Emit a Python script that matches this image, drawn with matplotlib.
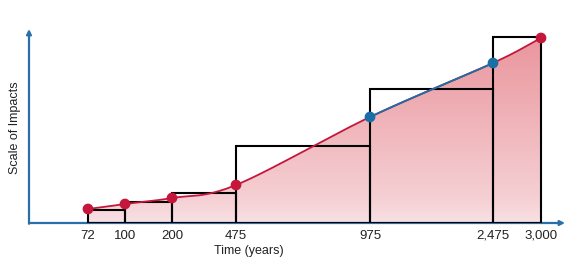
import numpy as np
import matplotlib.pyplot as plt
from matplotlib.colors import LinearSegmentedColormap

plt.rcParams['font.family'] = ['Liberation Sans', 'DejaVu Sans']

# values (impact in arbitrary units)
years = [72, 100, 200, 475, 975, 2475, 3000]
impact = [14, 19, 25, 38, 106, 160, 185]
box_height = [13, 21, 30, 77, 134, 186]
tick_labels = ["72", "100", "200", "475", "975", "2,475", "3,000"]
point_colors = ["#c4173b", "#c4173b", "#c4173b", "#c4173b", "#1a6fa6", "#1a6fa6", "#c4173b"]

# the time axis is not linear: each labelled year has its own slot
scale_years = [0, 72, 100, 200, 475, 975, 2475, 3000, 3150]
scale_pos = [29, 88, 125, 172, 236, 370, 493, 541, 565]

RED = "#c4173b"
BLUE = "#1a6fa6"
AXIS = "#2a6faa"


def fwd(v):
   return np.interp(v, scale_years, scale_pos)


def inv(v):
   return np.interp(v, scale_pos, scale_years)


def catmull_rom(x, y, n=40):
   # smooth curve through the points, done in the axis' own position space
   p = np.column_stack([x, y]).astype(float)
   p = np.vstack([2 * p[0] - p[1], p, 2 * p[-1] - p[-2]])
   segs = []
   t = np.linspace(0, 1, n)[:, None]
   for i in range(1, len(p) - 2):
      p0, p1, p2, p3 = p[i - 1], p[i], p[i + 1], p[i + 2]
      c = 0.5 * (2 * p1 + (-p0 + p2) * t + (2 * p0 - 5 * p1 + 4 * p2 - p3) * t ** 2
                 + (-p0 + 3 * p1 - 3 * p2 + p3) * t ** 3)
      segs.append(c)
   return segs


fig = plt.figure(figsize=(5.76, 2.68), dpi=100)
ax = fig.add_axes([29 / 576, 45 / 268, 536 / 576, 194 / 268])
ax.set_xscale('function', functions=(fwd, inv))
ax.set_xlim(0, 3150)
ax.set_ylim(0, 194)

segs = catmull_rom(fwd(years), impact)
curve = np.vstack(segs)
cx = inv(curve[:, 0])
cy = curve[:, 1]

# gradient fill under the curve
fill = ax.fill_between(cx, 0, cy, facecolor='none', edgecolor='none')
cmap = LinearSegmentedColormap.from_list(
   'pinks', [(0, "#f9e1e4"), (0.12, "#f5d0d4"), (1, "#e9939a")])
grad = np.linspace(0, 1, 256)[:, None]
im = ax.imshow(grad, extent=[0, 1, 0, 1], transform=ax.transAxes, origin='lower',
               aspect='auto', cmap=cmap, zorder=1)
im.set_clip_path(fill.get_paths()[0], transform=ax.transData)

# step boxes
widths = np.diff(years)
ax.bar(years[:-1], box_height, width=widths, align='edge', fill=False,
       edgecolor='black', linewidth=1.5, zorder=3)

# curve: red, with the 975-2475 stretch in blue
ax.plot(cx, cy, color=RED, lw=1.3, zorder=4)
ax.plot(inv(segs[4][:, 0]), segs[4][:, 1], color=BLUE, lw=1.3, zorder=4)
ax.scatter(years, impact, s=60, c=point_colors, zorder=5, linewidths=0)

# axes with arrow heads
for s in ax.spines.values():
   s.set_visible(False)
ax.annotate('', xy=(0, 1.0), xytext=(0, -0.004), xycoords='axes fraction',
            arrowprops=dict(arrowstyle='-|>', color=AXIS, lw=1.6, mutation_scale=7,
                            shrinkA=0, shrinkB=0))
ax.annotate('', xy=(1.0, 0), xytext=(0, 0), xycoords='axes fraction',
            arrowprops=dict(arrowstyle='-|>', color=AXIS, lw=1.6, mutation_scale=7,
                            shrinkA=0, shrinkB=0), zorder=2)

ax.set_xticks(years, tick_labels, fontsize=9.5, color='#222222')
ax.tick_params(axis='x', length=0, pad=5)
ax.set_yticks([])
ax.minorticks_off()

ax.text(0.41, -0.145, "Time (years)", transform=ax.transAxes, ha='center', va='center',
        fontsize=9, color='#222222')
ax.text(-0.026, 0.49, "Scale of Impacts", transform=ax.transAxes, ha='center', va='center',
        rotation=90, fontsize=9, color='#222222')

fig.savefig('out.png', dpi=100)
